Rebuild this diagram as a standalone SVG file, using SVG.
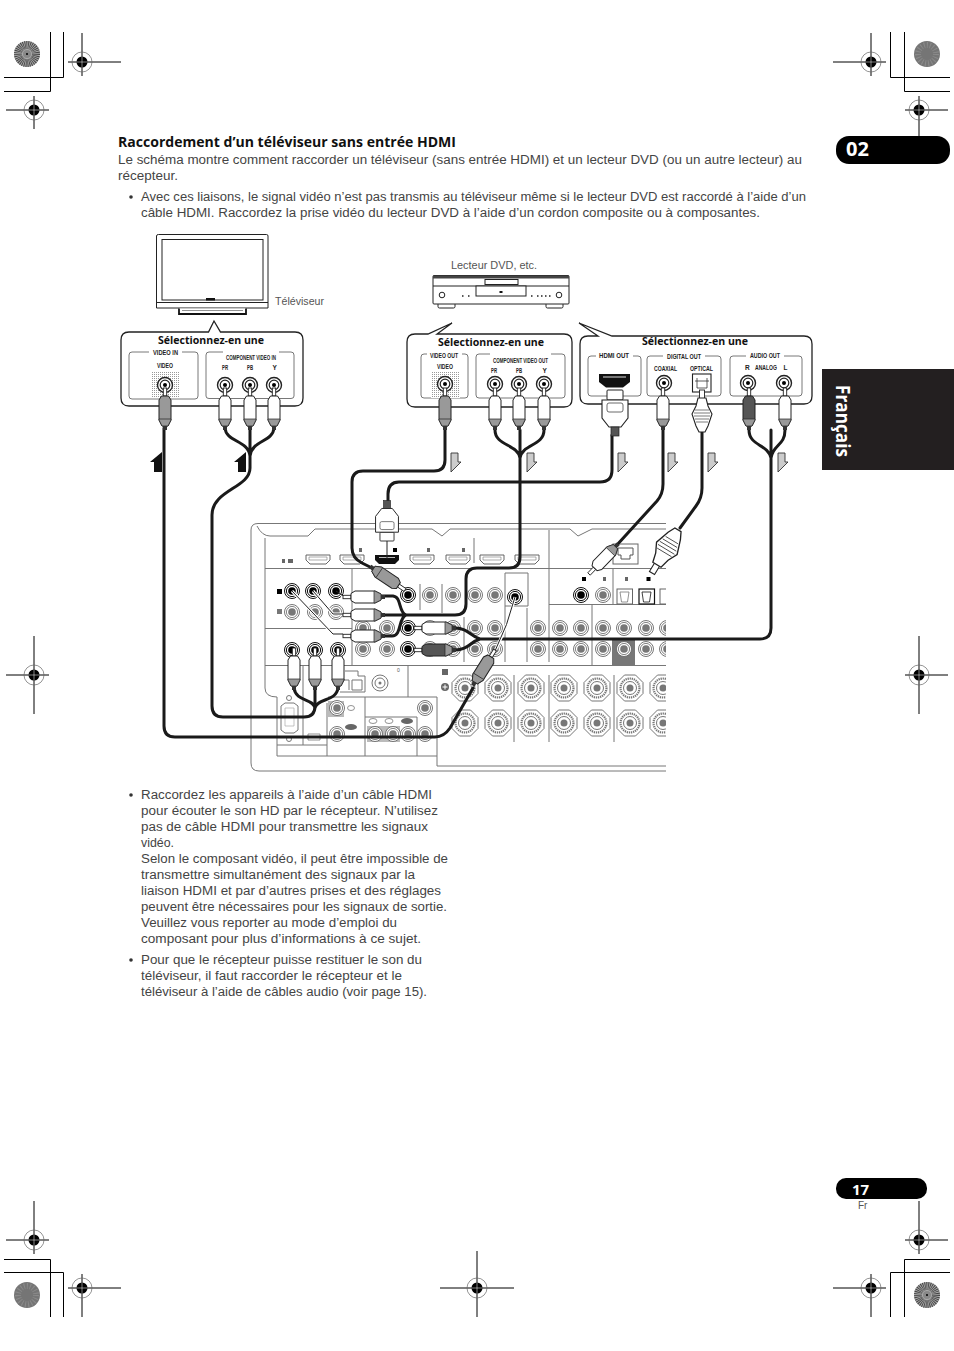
<svg xmlns="http://www.w3.org/2000/svg" xmlns:xlink="http://www.w3.org/1999/xlink" width="954" height="1351" viewBox="0 0 954 1351">
<style>
text{font-family:"Liberation Sans",Arial,sans-serif;fill:#444}
.body{font-size:12.5px}
.h{font-family:"Open Sans","Liberation Sans",sans-serif;font-weight:700;font-size:14.5px;fill:#111}
.sel{font-family:"Open Sans","Liberation Sans",sans-serif;font-weight:700;font-size:9.800px;fill:#111}
.lab{font-family:"Liberation Sans",sans-serif;font-weight:700;font-size:6.5px;fill:#222;text-anchor:start}
.cap{font-size:10px;fill:#555}
.mk{stroke:#000;stroke-width:1;fill:none}
.box{fill:none;stroke:#555;stroke-width:.8}
.call{fill:#fff;stroke:#222;stroke-width:1.3}
.cable{fill:none;stroke:#1a1a1a;stroke-width:3;stroke-linecap:round;stroke-linejoin:round}
.thin{fill:none;stroke:#222;stroke-width:1}
.halo{fill:none;stroke:#fff;stroke-width:3}
.rl{fill:none;stroke:#777;stroke-width:1}
.dev{fill:#fff;stroke:#222;stroke-width:1}
.arrd{fill:#ccc;stroke:#333;stroke-width:.9}
</style>
<defs>
<pattern id="stip" width="2" height="2" patternUnits="userSpaceOnUse"><rect width="2" height="2" fill="#fff"/><rect width="1" height="1" fill="#999"/></pattern>
<clipPath id="rc"><rect x="240" y="515" width="426" height="265"/></clipPath>
<g id="reg"><circle r="10" fill="none" stroke="#666" stroke-width=".7"/><circle r="5.500" fill="#000"/><path d="M-5.500 0H5.500M0-5.500V5.500" stroke="#fff" stroke-width=".5"/></g>
<g id="sunA"><circle r="13" fill="#aaa"/><circle r="9" fill="none" stroke="#444" stroke-width="8" stroke-dasharray=".8 .8"/><circle r="4" fill="#888"/><circle r="1" fill="#000"/></g>
<g id="sunB"><circle r="13" fill="#757575"/><circle r="9" fill="none" stroke="#8a8a8a" stroke-width="6" stroke-dasharray="1 2"/></g>
<g id="jk"><circle r="7.5" fill="#fff" stroke="#222" stroke-width="1.4"/><circle r="4.8" fill="#fff" stroke="#222" stroke-width="1.2"/><circle r="2" fill="#000"/></g>
<g id="jg"><circle r="7.5" fill="#fff" stroke="#666" stroke-width=".9"/><circle r="5.6" fill="#fff" stroke="#666" stroke-width=".8"/><circle r="3.8" fill="#777"/></g>
<g id="jb"><circle r="7.5" fill="#fff" stroke="#111" stroke-width="1"/><circle r="5.6" fill="#fff" stroke="#111" stroke-width="1"/><circle r="3.8" fill="#000"/></g>
<g id="rca"><rect x="-1.7" y="0" width="3.4" height="8" fill="#fff" stroke="#222" stroke-width=".9"/><path d="M-3.5 8H3.5L6 12V32L3 38H-3L-6 32V12Z" fill="currentColor" stroke="#222" stroke-width="1"/><path d="M-6 31H6V32L3 38H-3L-6 32Z" fill="#999" stroke="#222" stroke-width=".7"/><rect x="-2" y="38" width="4" height="4" fill="#333"/></g>
<g id="hd"><rect x="-8" y="0" width="16" height="10" rx="1" fill="#fff" stroke="#222"/><path d="M-13 10H13V28L6 37H-6L-13 28Z" fill="#fff" stroke="#222" stroke-width="1.1"/><rect x="-8" y="13" width="16" height="9" rx="2" fill="#fff" stroke="#444" stroke-width=".8"/><rect x="-4" y="37" width="8" height="9" fill="#555" stroke="#222" stroke-width=".7"/></g>
<g id="opt"><rect x="-2.5" y="0" width="5" height="10" fill="#fff" stroke="#222" stroke-width=".9"/><path d="M-4 8H4L6 16L10 24L6 36L3 42H-3L-6 36L-10 24L-6 16Z" fill="#fff" stroke="#222" stroke-width="1.1"/><path d="M-7 20H7M-8 23H8M-8 26H8M-7 29H7M-6 32H6" stroke="#444" stroke-width=".7"/></g>
<g id="hp"><path d="M-12 -4H12V1L8 5H-8L-12 1Z" fill="#fff" stroke="#555" stroke-width=".9"/><path d="M-9 -2H9V1H-9Z" fill="#fff" stroke="#777" stroke-width=".6"/></g>
<g id="oct"><path d="M-5.5-13H5.5L13-5.5V5.5L5.500 13H-5.500L-13 5.500V-5.500Z" fill="#fff" stroke="#666" stroke-width=".9"/><circle r="9.500" fill="none" stroke="#777" stroke-width="2.200" stroke-dasharray="1.300 .8"/><circle r="6.500" fill="#fff" stroke="#666" stroke-width=".9"/><circle r="3.500" fill="#777"/></g>
<path id="up" d="M12 0V20H4V10H0Z" fill="#111"/>
<path id="dn" d="M0 0H7V9H10L0 19Z" class="arrd"/>
</defs>
<rect width="954" height="1351" fill="#fff"/>

<g id="print-marks">
<path class="mk" d="M50.500 32V91.500H4M63.500 32V77.500H4"/>
<path class="mk" d="M68 62H121M82 33V76M6 110H49M34 96V129"/>
<use href="#sunA" x="27" y="54"/><use href="#reg" x="82" y="62"/><use href="#reg" x="34" y="110"/>
<path class="mk" d="M890.500 32V77.500H950M904.500 32V91.500H950"/>
<path class="mk" d="M833 62H886M871 33V76M905 110H948M919 96V136"/>
<use href="#sunB" x="927" y="54"/><use href="#reg" x="871" y="62"/><use href="#reg" x="919" y="110"/>
<path class="mk" d="M50.500 1317V1259.500H4M63.500 1317V1272.500H4"/>
<path class="mk" d="M6 1240H49M34 1201V1254M68 1288H121M82 1274V1317"/>
<use href="#sunB" x="27" y="1295"/><use href="#reg" x="34" y="1240"/><use href="#reg" x="82" y="1288"/>
<path class="mk" d="M890.500 1317V1272.500H950M904.500 1317V1259.500H950"/>
<path class="mk" d="M905 1240H948M919 1201V1254M833 1288H886M871 1274V1317"/>
<use href="#sunA" x="927" y="1295"/><use href="#reg" x="919" y="1240"/><use href="#reg" x="871" y="1288"/>
<path class="mk" d="M6 675H49M34 636V714M905 675H948M919 636V714M440 1288H514M477 1251V1317"/>
<use href="#reg" x="34" y="675"/><use href="#reg" x="919" y="675"/><use href="#reg" x="477" y="1288"/>
</g>

<g id="page-tabs">
<rect x="836" y="136" width="114" height="28" rx="13" fill="#000"/>
<text x="846" y="156" style="font-family:'Open Sans','Liberation Sans',sans-serif;font-weight:700;font-size:20px;fill:#fff">02</text>
<rect x="822" y="369" width="132" height="101" fill="#231f20"/>
<text transform="translate(836 385) rotate(90)" style="font-family:'Open Sans','Liberation Sans',sans-serif;font-weight:700;font-size:19px;fill:#fff" textLength="72" lengthAdjust="spacingAndGlyphs">Français</text>
<rect x="836" y="1178" width="91" height="21" rx="10" fill="#000"/>
<text x="852" y="1195" style="font-family:'Open Sans','Liberation Sans',sans-serif;font-weight:700;font-size:15px;fill:#fff">17</text>
<text x="858" y="1209" style="font-size:10px;fill:#555">Fr</text>
</g>

<g id="text-top">
<text class="h" x="118" y="147" textLength="338" lengthAdjust="spacingAndGlyphs">Raccordement d’un téléviseur sans entrée HDMI</text>
<text class="body" x="118" y="164" textLength="684" lengthAdjust="spacingAndGlyphs">Le schéma montre comment raccorder un téléviseur (sans entrée HDMI) et un lecteur DVD (ou un autre lecteur) au</text>
<text class="body" x="118" y="180" textLength="60" lengthAdjust="spacingAndGlyphs">récepteur.</text>
<circle cx="131" cy="197" r="1.800" fill="#333"/>
<text class="body" x="141" y="201" textLength="665" lengthAdjust="spacingAndGlyphs">Avec ces liaisons, le signal vidéo n’est pas transmis au téléviseur même si le lecteur DVD est raccordé à l’aide d’un</text>
<text class="body" x="141" y="217" textLength="619" lengthAdjust="spacingAndGlyphs">câble HDMI. Raccordez la prise vidéo du lecteur DVD à l’aide d’un cordon composite ou à composantes.</text>
</g>

<g id="text-bottom">
<circle cx="131" cy="795" r="1.800" fill="#333"/>
<text class="body" x="141" y="799" textLength="291" lengthAdjust="spacingAndGlyphs">Raccordez les appareils à l’aide d’un câble HDMI</text>
<text class="body" x="141" y="815" textLength="297" lengthAdjust="spacingAndGlyphs">pour écouter le son HD par le récepteur. N’utilisez</text>
<text class="body" x="141" y="831" textLength="287" lengthAdjust="spacingAndGlyphs">pas de câble HDMI pour transmettre les signaux</text>
<text class="body" x="141" y="847" textLength="33" lengthAdjust="spacingAndGlyphs">vidéo.</text>
<text class="body" x="141" y="863" textLength="307" lengthAdjust="spacingAndGlyphs">Selon le composant vidéo, il peut être impossible de</text>
<text class="body" x="141" y="879" textLength="274" lengthAdjust="spacingAndGlyphs">transmettre simultanément des signaux par la</text>
<text class="body" x="141" y="895" textLength="300" lengthAdjust="spacingAndGlyphs">liaison HDMI et par d’autres prises et des réglages</text>
<text class="body" x="141" y="911" textLength="306" lengthAdjust="spacingAndGlyphs">peuvent être nécessaires pour les signaux de sortie.</text>
<text class="body" x="141" y="927" textLength="256" lengthAdjust="spacingAndGlyphs">Veuillez vous reporter au mode d’emploi du</text>
<text class="body" x="141" y="943" textLength="280" lengthAdjust="spacingAndGlyphs">composant pour plus d’informations à ce sujet.</text>
<circle cx="131" cy="960" r="1.800" fill="#333"/>
<text class="body" x="141" y="964" textLength="281" lengthAdjust="spacingAndGlyphs">Pour que le récepteur puisse restituer le son du</text>
<text class="body" x="141" y="980" textLength="261" lengthAdjust="spacingAndGlyphs">téléviseur, il faut raccorder le récepteur et le</text>
<text class="body" x="141" y="996" textLength="286" lengthAdjust="spacingAndGlyphs">téléviseur à l’aide de câbles audio (voir page 15).</text>
</g>

<g id="tv">
<path class="dev" d="M156.500 308V236Q156.500 234.500 158.500 234.500H266.500Q268 234.500 268 236V308Z" stroke-width="1.500"/>
<rect x="162" y="239.500" width="101" height="60.500" fill="#fff" stroke="#222"/>
<path d="M156.500 302.500H268" stroke="#222"/>
<rect x="206" y="298" width="9" height="2.500" fill="#111"/>
<path d="M179 308.500V314H246V308.500" fill="#fff" stroke="#111" stroke-width="1.800"/>
<path d="M182 310.500H243" stroke="#777" stroke-width=".8"/>
<text class="cap" x="275" y="305" textLength="49" lengthAdjust="spacingAndGlyphs">Téléviseur</text>
</g>

<g id="dvd">
<rect class="dev" x="438" y="303" width="17" height="5" rx="1.500"/>
<rect class="dev" x="546" y="303" width="17" height="5" rx="1.500"/>
<rect class="dev" x="433" y="275.500" width="136" height="28.500" rx="1" stroke-width="1.200"/>
<rect x="433" y="275.500" width="136" height="3" fill="#444"/>
<path d="M433 286H569" stroke="#222"/>
<rect class="dev" x="485" y="279.500" width="33" height="5"/>
<rect class="dev" x="476" y="286" width="50" height="10"/>
<rect x="499.500" y="291" width="3" height="2" fill="#111"/>
<circle class="dev" cx="442" cy="295" r="2.800"/><circle class="dev" cx="559" cy="295" r="2.800"/>
<path d="M462 296h1.500M468 296h1.500M531 296h1.500M537 296h1.500M541 296h1.500M545 296h1.500M549 296h1.500" stroke="#222" stroke-width="1.300"/>
<text class="cap" x="451" y="269" textLength="86" lengthAdjust="spacingAndGlyphs">Lecteur DVD, etc.</text>
</g>

<g id="panel-tv">
<path class="call" d="M129 332H208.500L214 321L220.500 332H295Q303 332 303 340V398Q303 406 295 406H129Q121 406 121 398V340Q121 332 129 332Z"/>
<text class="sel" x="158" y="344" textLength="106" lengthAdjust="spacingAndGlyphs">Sélectionnez-en une</text>
<path class="box" d="M149 352H132Q129 352 129 355V396Q129 399 132 399H195Q198 399 198 396V355Q198 352 195 352H182M223 352H209Q206 352 206 355V396Q206 398.500 209 398.500H291Q294 398.500 294 396V355Q294 352 291 352H279"/>
<text class="lab" x="153" y="355" textLength="25" lengthAdjust="spacingAndGlyphs">VIDEO IN</text>
<text class="lab" x="157" y="368" textLength="16" lengthAdjust="spacingAndGlyphs">VIDEO</text>
<text class="lab" x="226" y="360" textLength="50" lengthAdjust="spacingAndGlyphs">COMPONENT VIDEO IN</text>
<text class="lab" x="222" y="370" textLength="6" lengthAdjust="spacingAndGlyphs">PR</text>
<text class="lab" x="247" y="370" textLength="6" lengthAdjust="spacingAndGlyphs">PB</text>
<text class="lab" x="272.500" y="370">Y</text>
<rect x="151" y="372" width="29" height="26" fill="url(#stip)"/>
<use href="#jk" x="165" y="385"/><use href="#jk" x="225" y="385"/><use href="#jk" x="250" y="385"/><use href="#jk" x="274" y="385"/>
</g>

<g id="panel-dvd-video">
<path class="call" d="M415 334H428L452 323L437 334H564Q572 334 572 342V399Q572 407 564 407H415Q407 407 407 399V342Q407 334 415 334Z"/>
<text class="sel" x="438" y="346" textLength="106" lengthAdjust="spacingAndGlyphs">Sélectionnez-en une</text>
<path class="box" d="M427 354H424Q421 354 421 357V395Q421 398 424 398H465Q468 398 468 395V357Q468 354 465 354H462M490 354H479Q476 354 476 357V395Q476 398 479 398H562Q565 398 565 395V357Q565 354 562 354H551"/>
<text class="lab" x="430" y="358" textLength="28" lengthAdjust="spacingAndGlyphs">VIDEO OUT</text>
<text class="lab" x="437" y="369" textLength="16" lengthAdjust="spacingAndGlyphs">VIDEO</text>
<text class="lab" x="493" y="363" textLength="55" lengthAdjust="spacingAndGlyphs">COMPONENT VIDEO OUT</text>
<text class="lab" x="491" y="373" textLength="6" lengthAdjust="spacingAndGlyphs">PR</text>
<text class="lab" x="516" y="373" textLength="6" lengthAdjust="spacingAndGlyphs">PB</text>
<text class="lab" x="542.500" y="373">Y</text>
<rect x="431" y="371" width="29" height="27" fill="url(#stip)"/>
<use href="#jk" x="445" y="384"/><use href="#jk" x="495" y="384"/><use href="#jk" x="519" y="384"/><use href="#jk" x="544" y="384"/>
</g>

<g id="panel-dvd-digital">
<path class="call" d="M588 336H598L579 323L612 336H804Q812 336 812 344V396Q812 404 804 404H588Q580 404 580 396V344Q580 336 588 336Z"/>
<text class="sel" x="642" y="345" textLength="106" lengthAdjust="spacingAndGlyphs">Sélectionnez-en une</text>
<path class="box" d="M596 356H591Q588 356 588 359V393Q588 396 591 396H638Q641 396 641 393V359Q641 356 638 356H633M663 356H650Q647 356 647 359V393Q647 396 650 396H718Q721 396 721 393V359Q721 356 718 356H705M746 356H733Q730 356 730 359V393Q730 396 733 396H799Q802 396 802 393V359Q802 356 799 356H784"/>
<text class="lab" x="599" y="358" textLength="30" lengthAdjust="spacingAndGlyphs">HDMI OUT</text>
<text class="lab" x="667" y="359" textLength="34" lengthAdjust="spacingAndGlyphs">DIGITAL OUT</text>
<text class="lab" x="750" y="358" textLength="30" lengthAdjust="spacingAndGlyphs">AUDIO OUT</text>
<text class="lab" x="654" y="371" textLength="23" lengthAdjust="spacingAndGlyphs">COAXIAL</text>
<text class="lab" x="690" y="371" textLength="23" lengthAdjust="spacingAndGlyphs">OPTICAL</text>
<text class="lab" x="745" y="370">R</text>
<text class="lab" x="755" y="370" textLength="22" lengthAdjust="spacingAndGlyphs">ANALOG</text>
<text class="lab" x="783.500" y="370">L</text>
<path d="M599 374H630V382L623 387.500H606L599 382Z" fill="#111"/><path d="M603 377H626" stroke="#ddd" stroke-width="1"/>
<use href="#jk" x="664" y="383"/>
<rect x="692.500" y="374" width="18.500" height="18" fill="#fff" stroke="#222" stroke-width="1.100"/><path d="M695 381H709M697 378V388H707V378" fill="none" stroke="#333" stroke-width=".8"/>
<use href="#jk" x="748" y="383"/><use href="#jk" x="784" y="383"/>
</g>

<g id="receiver" clip-path="url(#rc)">
<path class="rl" d="M670 523.500H258Q251 523.500 251 530V763Q251 771 259 771H670" stroke-width="1.200"/>
<path class="rl" d="M670 766H437M257 526Q262 536 270 536H308L315 529H432L442 536L450 529H570L578 536L592 529H670" stroke-width="1.200"/>
<path class="rl" d="M265 538V688Q265 697 277 697V745H327M277 745V756H437M265 568.500H670M265 628.500H352M265 665.500H670M352 568.500V665.500M549 530V606M549 604.500H670M613 568V604M303 665V745M327 703V756M365 697V756M328 697H437M417 717V756M365 717H417M437 697V766M408 665V697M420 584V610M442 584V613M464 617V662M505 573V662M527 608V662M549 606V662M592 604V665M474 538V563M514 675V742M549 675V742M614 675V742M505 573H528V606H505"/>

<g id="hdmi-ports">
<use href="#hp" x="318" y="559"/><use href="#hp" x="352" y="559"/><use href="#hp" x="422" y="559"/><use href="#hp" x="458" y="559"/><use href="#hp" x="492" y="559"/><use href="#hp" x="527" y="559"/>
<path d="M375 555H399V560L395 564H379L375 560Z" fill="#111"/>
<path d="M379 557.500H395" stroke="#bbb"/>
</g>
<path d="M282 559h3v4h-3ZM288 559h5v4h-5ZM359 548h3v4h-3ZM427 548h3v4h-3ZM462 548h3v4h-3ZM603 577h3v4h-3ZM625 577h3v4h-3Z" fill="#666"/>
<path d="M393 548h4v4h-4ZM582 577h4v4h-4ZM646.500 577h4v4h-4Z" fill="#000"/>
<rect x="277" y="589" width="5" height="5" fill="#000"/><rect x="277" y="609" width="5" height="5" fill="#777"/>

<use href="#jb" x="292" y="591"/><use href="#jb" x="313" y="591"/><use href="#jb" x="336" y="591"/>
<use href="#jg" x="292" y="612"/><use href="#jg" x="315" y="612"/><use href="#jg" x="336" y="612"/>
<use href="#jb" x="292" y="650"/><use href="#jb" x="315" y="650"/><use href="#jb" x="338" y="650"/>
<use href="#jb" x="408" y="595"/><use href="#jg" x="430" y="595"/><use href="#jg" x="453" y="595"/><use href="#jg" x="475" y="595"/><use href="#jg" x="495" y="595"/><use href="#jb" x="515" y="597"/>
<use href="#jg" x="363" y="628"/><use href="#jg" x="387" y="628"/><use href="#jb" x="408" y="628"/><use href="#jg" x="430" y="628"/><use href="#jg" x="453" y="628"/><use href="#jg" x="475" y="628"/><use href="#jg" x="495" y="628"/>
<use href="#jg" x="363" y="649"/><use href="#jg" x="387" y="649"/><use href="#jb" x="408" y="649"/><use href="#jg" x="430" y="649"/><use href="#jg" x="453" y="649"/><use href="#jg" x="475" y="649"/><use href="#jg" x="495" y="649"/>
<use href="#jg" x="538" y="628"/><use href="#jg" x="560" y="628"/><use href="#jg" x="581" y="628"/><use href="#jg" x="603" y="628"/><use href="#jg" x="624" y="628"/><use href="#jg" x="646" y="628"/><use href="#jg" x="667" y="628"/>
<rect x="612" y="640" width="23" height="25" fill="#777"/>
<use href="#jg" x="538" y="649"/><use href="#jg" x="560" y="649"/><use href="#jg" x="581" y="649"/><use href="#jg" x="603" y="649"/><use href="#jg" x="624" y="649"/><use href="#jg" x="646" y="649"/><use href="#jg" x="667" y="649"/>
<use href="#jb" x="581" y="595"/><use href="#jg" x="603" y="595"/>

<rect x="613" y="544" width="25" height="20" fill="#fff" stroke="#666"/>
<path d="M618 548H633V555H630V559H621V555H618Z" fill="#fff" stroke="#555"/>
<rect x="617" y="589" width="15.500" height="15" fill="#fff" stroke="#666"/><path d="M620 592H629L627.500 602H621.500Z" fill="none" stroke="#777" stroke-width=".8"/>
<rect x="639" y="589" width="15.500" height="15" fill="#fff" stroke="#111" stroke-width="1.200"/><path d="M642 592H651L649.500 602H643.500Z" fill="none" stroke="#111" stroke-width=".8"/>
<rect x="660" y="589" width="15.500" height="15" fill="#fff" stroke="#666"/>

<use href="#oct" x="465" y="688"/><use href="#oct" x="498" y="688"/><use href="#oct" x="531" y="688"/><use href="#oct" x="564" y="688"/><use href="#oct" x="597" y="688"/><use href="#oct" x="630" y="688"/><use href="#oct" x="663" y="688"/>
<use href="#oct" x="465" y="723"/><use href="#oct" x="498" y="723"/><use href="#oct" x="531" y="723"/><use href="#oct" x="564" y="723"/><use href="#oct" x="597" y="723"/><use href="#oct" x="630" y="723"/><use href="#oct" x="663" y="723"/>
<rect x="442" y="669" width="6" height="6" fill="#666"/>
<circle cx="445" cy="687" r="4" fill="#666"/><path d="M442.500 687H447.500M445 684.500V689.500" stroke="#fff"/>
<circle cx="380" cy="683" r="8" fill="#fff" stroke="#777"/><circle cx="380" cy="683" r="5" fill="#fff" stroke="#777"/><circle cx="380" cy="683" r="1.500" fill="#777"/>
<text x="397" y="672" style="font-size:5px;fill:#555">0</text>
<path class="rl" d="M345 671H358V676H365V692H340M352 680H362V690H352ZM340 680H349V690"/>
<rect x="328" y="701" width="16" height="16" fill="#bbb"/>
<use href="#jg" x="337" y="708"/><use href="#jg" x="337" y="734"/>
<rect x="367" y="726" width="33" height="16" fill="#bbb"/>
<use href="#jg" x="375" y="734"/><use href="#jg" x="393" y="734"/><use href="#jg" x="408" y="734"/><use href="#jg" x="425" y="734"/><use href="#jg" x="425" y="708"/>
<ellipse cx="351" cy="708" rx="3.500" ry="2.500" fill="#fff" stroke="#666" stroke-width=".7"/>
<ellipse cx="351" cy="727" rx="6" ry="3" fill="#666"/>
<ellipse cx="373" cy="721" rx="4" ry="2.500" fill="#fff" stroke="#666" stroke-width=".7"/>
<ellipse cx="389" cy="721" rx="4" ry="2.500" fill="#fff" stroke="#666" stroke-width=".7"/>
<ellipse cx="407" cy="721" rx="6" ry="3" fill="#666"/>
<path d="M281 706L285 703H294L298 706V730L294 733H285L281 730Z" fill="#fff" stroke="#777"/>
<path d="M285 708h9v18h-9Z" fill="none" stroke="#aaa" stroke-width=".7"/>
<circle cx="289" cy="698" r="2.500" fill="none" stroke="#777"/><circle cx="289" cy="739" r="2.500" fill="none" stroke="#777"/>
<path d="M308 734H320V740H308Z" fill="none" stroke="#777" stroke-width=".8"/>
</g>

<g id="connectors">
<path class="cable" d="M164 428V726Q164 737 175 737H435Q444 737 450 728L473 688"/>
<path class="cable" d="M225 428C226 442 248 440 250 456M274 428C273 442 252 440 250 456M250 428V468C250 488 212 490 212 515V706Q212 717 223 717H304Q315 717 315 706V688M294 688C296 702 313 698 315 708M338 688C336 702 317 698 315 708"/>
<path class="cable" d="M445 428V460Q445 471 434 471H363Q352 471 352 482V548Q352 558 362 563L376 570"/>
<path class="cable" d="M495 430C495 446 518 444 520 458M544 430C544 446 522 444 520 458M520 430V557Q520 568 509 568H477Q466 568 466 579V604Q466 615 455 615H382M382 596H393C402 597 398 612 406 615M382 636H392C402 636 398 618 406 615"/>
<path class="cable" d="M612 435V470Q612 482 600 482H399Q388 482 388 494V503"/>
<path class="cable" d="M663 430V484Q663 494 657 501L616 546"/>
<path class="cable" d="M702 432V488Q702 498 696 506L680 528"/>
<path class="cable" d="M749 430C749 446 768 444 771 458M785 430C785 446 773 444 771 458M771 430V628Q771 639 760 639H478M455 628C468 628 470 636 480 639M455 650C468 650 470 642 480 639"/>
<path class="halo" d="M345 597H341M343 614H333L313 591M343 634H333L292 591"/>
<path class="thin" d="M345 597L336 591M343 614H333L313 591M343 634H333L292 591"/>
<path class="halo" d="M495 651Q508 625 515 597"/>
<path class="thin" d="M495 651Q508 625 515 597"/>
<path class="thin" stroke-width="1.500" d="M387 541V559"/>
</g>

<g id="plugs">
<use href="#rca" x="165" y="388" color="#999"/>
<use href="#rca" x="225" y="388" color="#fff"/><use href="#rca" x="250" y="388" color="#fff"/><use href="#rca" x="274" y="388" color="#fff"/>
<use href="#rca" x="445" y="388" color="#999"/>
<use href="#rca" x="495" y="388" color="#fff"/><use href="#rca" x="519" y="388" color="#fff"/><use href="#rca" x="544" y="388" color="#fff"/>
<use href="#hd" x="615" y="390"/>
<use href="#rca" x="663" y="388" color="#fff"/>
<use href="#opt" x="702" y="390"/>
<use href="#rca" x="749" y="388" color="#555"/><use href="#rca" x="785" y="388" color="#fff"/>
<use href="#rca" x="294" y="648" color="#fff"/><use href="#rca" x="315" y="648" color="#fff"/><use href="#rca" x="338" y="648" color="#fff"/>
<use href="#rca" transform="translate(343 597) rotate(-90)" color="#fff"/>
<use href="#rca" transform="translate(343 615) rotate(-90)" color="#fff"/>
<use href="#rca" transform="translate(343 636) rotate(-90)" color="#fff"/>
<use href="#rca" transform="translate(414 628) rotate(-90)" color="#fff"/>
<use href="#rca" transform="translate(414 650) rotate(-90)" color="#555"/>
<use href="#rca" transform="translate(405 590) rotate(124)" color="#999"/>
<use href="#rca" transform="translate(495 650) rotate(32)" color="#999"/>
<use href="#rca" transform="translate(589 574) rotate(224)" color="#fff"/>
<use href="#opt" transform="translate(652 573) rotate(211) scale(1.200)"/>
<use href="#hd" transform="translate(387 541) rotate(180) scale(.88)"/>
</g>

<g id="arrows">
<use href="#up" x="150" y="452"/><use href="#up" x="234" y="452"/>
<use href="#dn" x="451" y="453"/><use href="#dn" x="527" y="453"/><use href="#dn" x="618" y="453"/><use href="#dn" x="668" y="453"/><use href="#dn" x="708" y="453"/><use href="#dn" x="778" y="453"/>
</g>
</svg>
